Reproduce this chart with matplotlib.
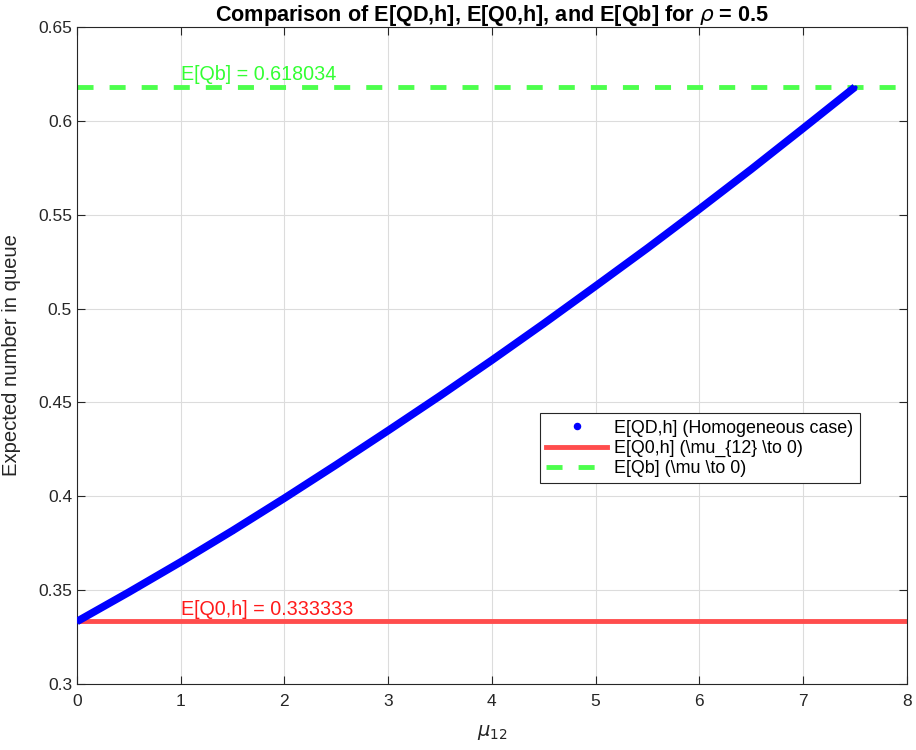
import matplotlib
matplotlib.use("Agg")
import matplotlib.pyplot as plt
import numpy as np

plt.rcParams['font.family'] = ['Liberation Sans', 'DejaVu Sans']
plt.rcParams['mathtext.fontset'] = 'dejavusans'

# Data
mu12 = [0.0, 0.5, 1.0, 1.5, 2.0, 2.5, 3.0, 3.5, 4.0, 4.5, 5.0, 5.5, 6.0, 6.5, 7.0, 7.5]
eqdh = [0.3333, 0.3489, 0.3650, 0.3817, 0.3990, 0.4168, 0.4350, 0.4535, 0.4725, 0.4920,
        0.5120, 0.5322, 0.5530, 0.5742, 0.5960, 0.6180]
eq0h = 0.333333
eqb = 0.618034
xticks = [0, 1, 2, 3, 4, 5, 6, 7, 8]
yticks = [0.3, 0.35, 0.4, 0.45, 0.5, 0.55, 0.6, 0.65]
ytick_labels = ['0.3', '0.35', '0.4', '0.45', '0.5', '0.55', '0.6', '0.65']

fig = plt.figure(figsize=(9.16, 7.5), dpi=100)
ax = fig.add_axes([0.084, 0.088, 0.906, 0.876])

ax.plot(mu12, eqdh, '-', color='#0000ff', lw=5.5, solid_capstyle='butt', zorder=3)
ax.plot(mu12, eqdh, '.', color='#0000ff', ms=4, zorder=3,
        label='E[QD,h] (Homogeneous case)')
ax.axhline(eq0h, color=(1, 0.3, 0.3), lw=3.5, label=r'E[Q0,h] (\mu_{12} \to 0)', zorder=2)
ax.axhline(eqb, color=(0.3, 1, 0.3), lw=3.5, ls=(0, (3.3, 3.3)),
           label=r'E[Qb] (\mu \to 0)', zorder=2)

ax.text(1, eqb + 0.0015, 'E[Qb] = 0.618034', color=(0.2, 1, 0.2), fontsize=14.2,
        va='bottom', ha='left')
ax.text(1, eq0h + 0.0015, 'E[Q0,h] = 0.333333', color=(1, 0.1, 0.1), fontsize=14.2,
        va='bottom', ha='left')

ax.set_xlim(0, 8)
ax.set_ylim(0.3, 0.65)
ax.set_xticks(xticks)
ax.set_yticks(yticks)
ax.set_yticklabels(ytick_labels)
ax.grid(True, color='#dcdcdc', lw=0.8)
ax.set_axisbelow(True)
ax.tick_params(direction='in', top=True, right=True, labelsize=12.5,
               colors='#262626', length=6, width=0.8)
ax.tick_params(axis='x', pad=7)
for s in ax.spines.values():
    s.set_color('#262626')
    s.set_linewidth(0.8)

ax.set_xlabel(r'$\mu_{\rm 12}$', fontsize=14, color='#262626', labelpad=10)
ax.set_ylabel('Expected number in queue', fontsize=14.6, color='#262626', labelpad=12)
ax.set_title(r'Comparison of E[QD,h], E[Q0,h], and E[Qb] for $\rho$ = 0.5',
             fontsize=15.6, fontweight='bold', pad=4)

leg = ax.legend(loc='upper right', bbox_to_anchor=(0.943, 0.412), fontsize=12.9,
                frameon=True, fancybox=False, edgecolor='#262626', framealpha=1,
                borderpad=0.35, labelspacing=0.18, handlelength=3.4, handletextpad=0.4,
                borderaxespad=0, markerscale=2.2)
leg.get_frame().set_linewidth(0.8)

fig.savefig('out.png', dpi=100)
